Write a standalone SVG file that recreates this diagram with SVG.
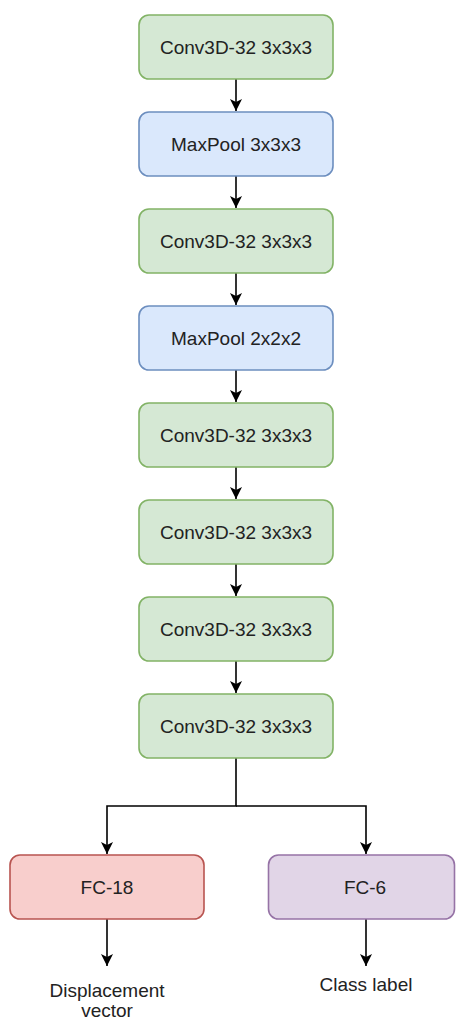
<svg xmlns="http://www.w3.org/2000/svg" width="456" height="1021" viewBox="0 0 456 1021">
<defs>
<style>
.n rect{stroke-width:1.6}
.conv rect{fill:#d5e8d4;stroke:#82b366}
.pool rect{fill:#dae8fc;stroke:#6c8ebf}
.fc18 rect{fill:#f8cecc;stroke:#b85450}
.fc6 rect{fill:#e1d5e7;stroke:#9673a6}
text{font-family:"Liberation Sans",Arial,sans-serif;font-size:19px;fill:#222;text-anchor:middle}
.e{fill:none;stroke:#000;stroke-width:1.6}
</style>
<marker id="ah" markerUnits="userSpaceOnUse" markerWidth="14" markerHeight="14" viewBox="0 0 14 14" refX="12" refY="7" orient="auto">
<path d="M0,1 L12,7 L0,13 L3,7 Z" fill="#000"/>
</marker>
</defs>
<rect width="456" height="1021" fill="#fff"/>
<g id="connectors">
<path class="e" d="M236,79 V111" marker-end="url(#ah)"/>
<path class="e" d="M236,176 V208" marker-end="url(#ah)"/>
<path class="e" d="M236,273 V305" marker-end="url(#ah)"/>
<path class="e" d="M236,370 V402" marker-end="url(#ah)"/>
<path class="e" d="M236,467 V499" marker-end="url(#ah)"/>
<path class="e" d="M236,564 V596" marker-end="url(#ah)"/>
<path class="e" d="M236,661 V693" marker-end="url(#ah)"/>
<path class="e" d="M236,758 V806 H107 V854" marker-end="url(#ah)"/>
<path class="e" d="M236,806 H366 V854" marker-end="url(#ah)"/>
<path class="e" d="M107,919 V966" marker-end="url(#ah)"/>
<path class="e" d="M366,919 V966" marker-end="url(#ah)"/>
</g>
<g id="n1" class="n conv"><rect x="139" y="15" width="194" height="64" rx="10"/><text x="236" y="54">Conv3D-32 3x3x3</text></g>
<g id="n2" class="n pool"><rect x="139" y="112" width="194" height="64" rx="10"/><text x="236" y="151">MaxPool 3x3x3</text></g>
<g id="n3" class="n conv"><rect x="139" y="209" width="194" height="64" rx="10"/><text x="236" y="248">Conv3D-32 3x3x3</text></g>
<g id="n4" class="n pool"><rect x="139" y="306" width="194" height="64" rx="10"/><text x="236" y="345">MaxPool 2x2x2</text></g>
<g id="n5" class="n conv"><rect x="139" y="403" width="194" height="64" rx="10"/><text x="236" y="442">Conv3D-32 3x3x3</text></g>
<g id="n6" class="n conv"><rect x="139" y="500" width="194" height="64" rx="10"/><text x="236" y="539">Conv3D-32 3x3x3</text></g>
<g id="n7" class="n conv"><rect x="139" y="597" width="194" height="64" rx="10"/><text x="236" y="636">Conv3D-32 3x3x3</text></g>
<g id="n8" class="n conv"><rect x="139" y="694" width="194" height="64" rx="10"/><text x="236" y="733">Conv3D-32 3x3x3</text></g>
<g id="fc18" class="n fc18"><rect x="10" y="855" width="194" height="64" rx="10"/><text x="107" y="894">FC-18</text></g>
<g id="fc6" class="n fc6"><rect x="268.5" y="855" width="186" height="64" rx="10"/><text x="365" y="894">FC-6</text></g>
<g id="out1"><text x="107" y="997">Displacement</text><text x="107" y="1017">vector</text></g>
<g id="out2"><text x="366" y="991">Class label</text></g>
</svg>
